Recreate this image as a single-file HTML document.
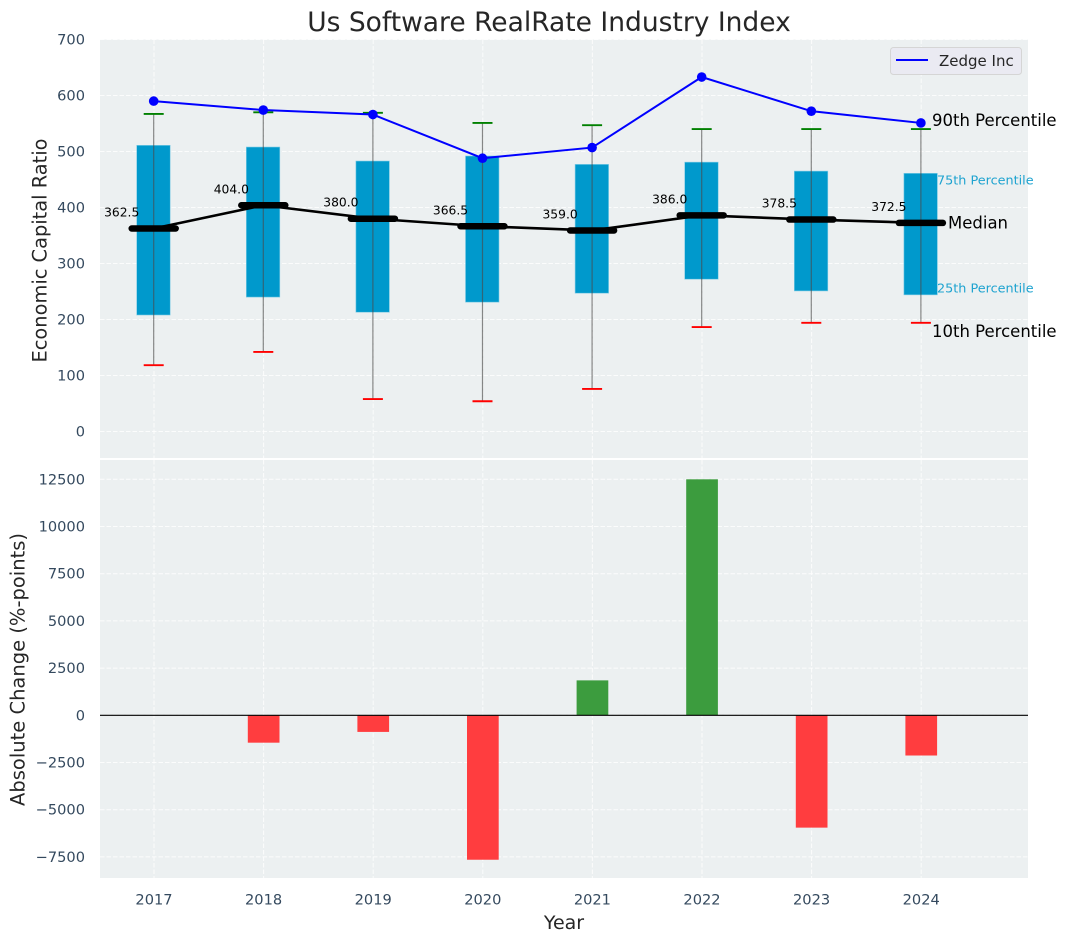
<!DOCTYPE html>
<html>
<head>
<meta charset="utf-8">
<title>Us Software RealRate Industry Index</title>
<style>
html,body{margin:0;padding:0;background:#fff;}
svg{display:block;font-family:"DejaVu Sans","Liberation Sans",sans-serif;}
</style>
</head>
<body>
<svg id="chart" xmlns="http://www.w3.org/2000/svg" width="1067" height="942" viewBox="0 0 1067 942">
  <rect width="1067" height="942" fill="#ffffff"/>
  <rect x="100" y="39.5" width="928" height="418.5" fill="#ecf0f1"/>
  <rect x="100" y="460" width="928" height="418" fill="#ecf0f1"/>
  <g id="grid"></g>
  <g id="bars"></g>
  <g id="boxes"></g>
  <g id="series"></g>
  <g id="ticks"></g>
  <text x="549" y="31" text-anchor="middle" font-size="26.5" fill="#262626">Us Software RealRate Industry Index</text>
  <text transform="translate(46.5,250.5) rotate(-90)" text-anchor="middle" font-size="19.4" fill="#262626">Economic Capital Ratio</text>
  <text transform="translate(24.5,669.5) rotate(-90)" text-anchor="middle" font-size="19.5" fill="#262626">Absolute Change (%-points)</text>
  <text x="564" y="929" text-anchor="middle" font-size="19" fill="#262626">Year</text>
  <g>
    <rect x="890.5" y="47.5" width="131" height="27" rx="3" fill="#eaeaf2" stroke="#d5d5d5" stroke-width="1"/>
    <line x1="896" y1="60" x2="928" y2="60" stroke="#0000ff" stroke-width="2"/>
    <text x="939" y="66" font-size="15" fill="#262626">Zedge Inc</text>
  </g>
  <text x="932" y="126" font-size="16.5" fill="#000000">90th Percentile</text>
  <text x="937" y="184.5" font-size="12.8" fill="#1ea3d0">75th Percentile</text>
  <text x="948" y="228.5" font-size="16.5" fill="#000000">Median</text>
  <text x="937" y="292.5" font-size="12.8" fill="#1ea3d0">25th Percentile</text>
  <text x="932" y="337" font-size="16.5" fill="#000000">10th Percentile</text>
</svg>
<script>
const years = [2017, 2018, 2019, 2020, 2021, 2022, 2023, 2024];
const p90 = [567, 570, 569, 551, 547, 540, 540, 540];
const p75 = [511, 508, 483, 492, 477, 481, 465, 461];
const medians = [362.5, 404.0, 380.0, 366.5, 359.0, 386.0, 378.5, 372.5];
const p25 = [208, 240, 213, 231, 247, 272, 251, 244];
const p10 = [118.5, 142, 58, 54, 76, 186.5, 194, 194];
const zedge = [590, 574, 566, 488, 507, 633, 572, 551];
const changes = [0, -1450, -880, -7650, 1850, 12500, -5950, -2130];
const upperTicks = [0, 100, 200, 300, 400, 500, 600, 700];
const lowerTicks = [-7500, -5000, -2500, 0, 2500, 5000, 7500, 10000, 12500];

const NS = 'http://www.w3.org/2000/svg';
const xScale = v => 154 + (v - 2017) * 109.6;
const yUpper = v => 431.5 - v * 0.56;
const yLower = v => 715.3 - v * 0.01888;

function make(parent, tag, attrs, text) {
  const el = document.createElementNS(NS, tag);
  for (const k in attrs) el.setAttribute(k, attrs[k]);
  if (text !== undefined) el.textContent = text;
  parent.appendChild(el);
  return el;
}
const grid = document.getElementById('grid');
const bars = document.getElementById('bars');
const boxes = document.getElementById('boxes');
const series = document.getElementById('series');
const ticks = document.getElementById('ticks');
const gridStyle = {stroke: '#ffffff', 'stroke-width': 1, 'stroke-dasharray': '4.5 2', opacity: 0.8};
const tickColor = '#34495e';

upperTicks.forEach(t => {
  const g = make(grid, 'line', {x1: 100, x2: 1028, y1: yUpper(t), y2: yUpper(t), ...gridStyle});
  
  
  const l = make(ticks, 'text', {x: 85, y: yUpper(t) + 5, 'text-anchor': 'end', 'font-size': 14.6, fill: tickColor}, String(t));
  
  
});
lowerTicks.forEach(t => {
  const g = make(grid, 'line', {x1: 100, x2: 1028, y1: yLower(t), y2: yLower(t), ...gridStyle});
  
  
  const label = (t < 0 ? '\u2212' + Math.abs(t) : String(t));
  const l = make(ticks, 'text', {x: 85, y: yLower(t) + 5, 'text-anchor': 'end', 'font-size': 14.6, fill: tickColor}, label);
  
  
});
years.forEach(y => {
  const a = make(grid, 'line', {x1: xScale(y), x2: xScale(y), y1: 39.5, y2: 458, ...gridStyle});
  
  
  const b = make(grid, 'line', {x1: xScale(y), x2: xScale(y), y1: 460, y2: 878, ...gridStyle});
  
  
  const l = make(ticks, 'text', {x: xScale(y), y: 904.5, 'text-anchor': 'middle', 'font-size': 14.6, fill: tickColor}, String(y));
  
  
});

years.forEach((y, i) => {
  const v = changes[i];
  if (v === 0) return;
  const top = Math.min(yLower(v), yLower(0));
  const h = Math.abs(yLower(v) - yLower(0));
  const r = make(bars, 'rect', {x: xScale(y) - 15.8, y: top, width: 31.7, height: h, fill: v >= 0 ? '#3c9c3e' : '#ff3d3f'});
  
  
});
const zero = make(bars, 'line', {x1: 100, x2: 1028, y1: yLower(0), y2: yLower(0), stroke: '#000000', 'stroke-width': 1.2});



years.forEach((y, i) => {
  const x = xScale(y) - 0.3;
  const r = make(boxes, 'rect', {x: x - 17, y: yUpper(p75[i]), width: 33.5, height: yUpper(p25[i]) - yUpper(p75[i]), fill: '#0099cc', stroke: '#7fcce5', 'stroke-width': 0.6});
  
  
  const w = make(boxes, 'line', {x1: x, x2: x, y1: yUpper(p90[i]), y2: yUpper(p10[i]), stroke: '#4a4a4a', 'stroke-opacity': 0.65, 'stroke-width': 1.2});
  
  
  const hi = make(boxes, 'line', {x1: x - 10, x2: x + 10, y1: yUpper(p90[i]), y2: yUpper(p90[i]), stroke: '#008000', 'stroke-width': 1.9});
  
  
  const lo = make(boxes, 'line', {x1: x - 10, x2: x + 10, y1: yUpper(p10[i]), y2: yUpper(p10[i]), stroke: '#ff0000', 'stroke-width': 1.9});
  
  
});

const pts = (vals) => years.map((y, i) => (xScale(y) - 0.3) + ',' + yUpper(vals[i])).join(' ');
const medLine = make(series, 'polyline', {points: pts(medians), fill: 'none', stroke: '#000000', 'stroke-width': 2.6});


years.forEach((y, i) => {
  const x = xScale(y) - 0.3;
  const m = make(series, 'line', {x1: x - 22, x2: x + 22, y1: yUpper(medians[i]), y2: yUpper(medians[i]), stroke: '#000000', 'stroke-width': 6.5, 'stroke-linecap': 'round'});
  
  
  const l = make(series, 'text', {x: x - 32, y: yUpper(medians[i]) - 12, 'text-anchor': 'middle', 'font-size': 12.3, fill: '#000000'}, medians[i].toFixed(1));
  
  
});
const zLine = make(series, 'polyline', {points: pts(zedge), fill: 'none', stroke: '#0000ff', 'stroke-width': 2});


years.forEach((y, i) => {
  const c = make(series, 'circle', {cx: xScale(y) - 0.3, cy: yUpper(zedge[i]), r: 4.8, fill: '#0000ff'});
  
  
});
</script>
</body>
</html>
